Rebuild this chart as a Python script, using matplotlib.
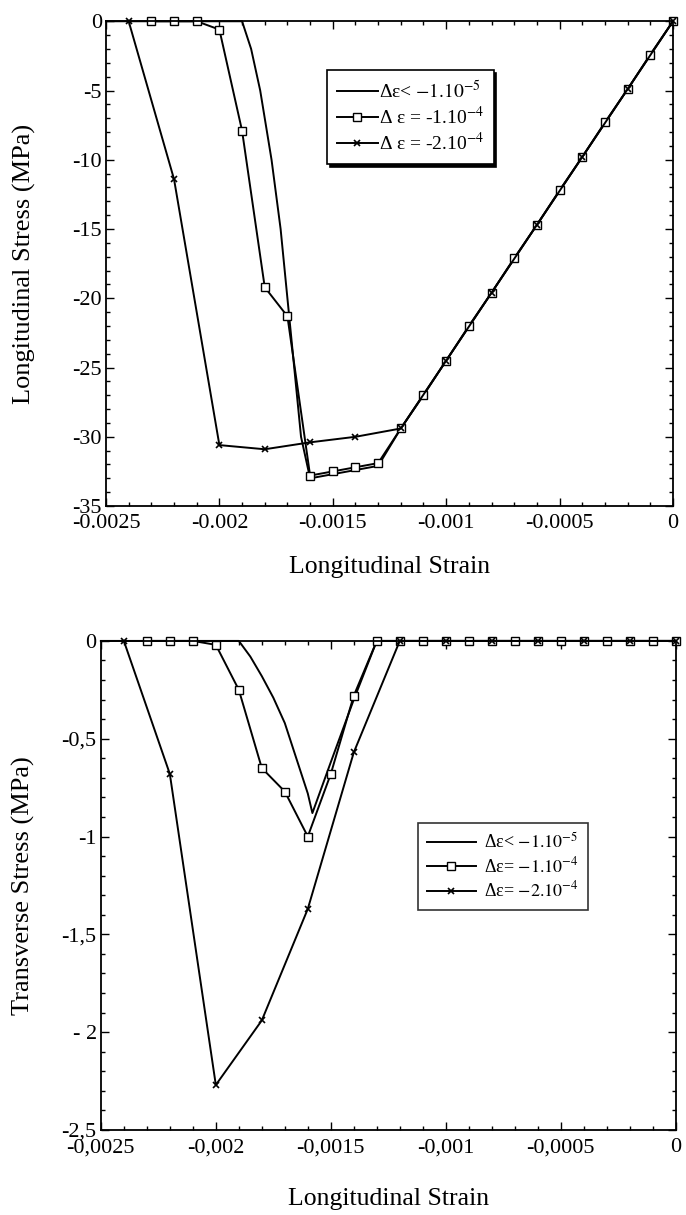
import matplotlib
matplotlib.use("Agg")
import matplotlib.pyplot as plt
from matplotlib.ticker import MultipleLocator

plt.rcParams["font.family"] = ["Liberation Serif", "DejaVu Serif"]
plt.rcParams["mathtext.fontset"] = "stix"

# ---- top panel: longitudinal stress ----
top_fine_strain = [0, -0.0012, -0.0013, -0.0014, -0.0015, -0.0016, -0.00164, -0.00167,
                   -0.0017, -0.00173, -0.00177, -0.00182, -0.00186, -0.0019, -0.0025]
top_fine_stress = [0, -29.4, -32.1, -32.4, -32.7, -33.0, -30.0, -25.0,
                   -20.0, -15.0, -10.0, -5.0, -2.0, 0, 0]

top_sq_strain = [-0.0023, -0.0022, -0.0021, -0.002, -0.0019, -0.0018, -0.0017, -0.0016,
                 -0.0015, -0.0014, -0.0013, -0.0012, -0.0011, -0.001, -0.0009, -0.0008,
                 -0.0007, -0.0006, -0.0005, -0.0004, -0.0003, -0.0002, -0.0001, 0]
top_sq_stress = [0, 0, 0, -0.6, -7.9, -19.2, -21.3, -32.8,
                 -32.5, -32.2, -31.9, -29.4, -27.0, -24.5, -22.0, -19.6,
                 -17.1, -14.7, -12.2, -9.8, -7.3, -4.9, -2.4, 0]

top_x_strain = [-0.0024, -0.0022, -0.002, -0.0018, -0.0016, -0.0014, -0.0012,
                -0.001, -0.0008, -0.0006, -0.0004, -0.0002, 0]
top_x_stress = [0, -11.4, -30.6, -30.9, -30.4, -30.0, -29.4,
                -24.5, -19.6, -14.7, -9.8, -4.9, 0]

top_labels = ["Δε< $-1.10^{-5}$", "Δ ε = -1.10$^{-4}$", "Δ ε = -2.10$^{-4}$"]

# ---- bottom panel: transverse stress ----
bot_fine_strain = [0, -0.0012, -0.0013, -0.0014, -0.0015, -0.00158, -0.0016, -0.00165,
                   -0.0017, -0.00175, -0.0018, -0.00185, -0.0019, -0.0025]
bot_fine_stress = [0, 0, 0, -0.3, -0.62, -0.88, -0.78, -0.6,
                   -0.42, -0.29, -0.18, -0.08, 0, 0]

bot_sq_strain = top_sq_strain
bot_sq_stress = [0, 0, 0, -0.02, -0.25, -0.65, -0.77, -1.0,
                 -0.68, -0.28, 0, 0, 0, 0, 0, 0,
                 0, 0, 0, 0, 0, 0, 0, 0]

bot_x_strain = top_x_strain
bot_x_stress = [0, -0.68, -2.27, -1.94, -1.37, -0.57, 0,
                0, 0, 0, 0, 0, 0]

bot_labels = ["Δε< $-1.10^{-5}$", "Δε= $-1.10^{-4}$", "Δε= $-2.10^{-4}$"]

x_ticks = [-0.0025, -0.002, -0.0015, -0.001, -0.0005, 0]
top_xticklabels = ["-0.0025", "-0.002", "-0.0015", "-0.001", "-0.0005", "0"]
bot_xticklabels = ["-0,0025", "-0,002", "-0,0015", "-0,001", "-0,0005", "0"]
top_yticks = [0, -5, -10, -15, -20, -25, -30, -35]
top_yticklabels = ["0", "-5", "-10", "-15", "-20", "-25", "-30", "-35"]
bot_yticks = [0, -0.5, -1, -1.5, -2, -2.5]
bot_yticklabels = ["0", "-0,5", "-1", "-1,5", "- 2", "-2,5"]


def style_axes(ax, ylim, y_minor):
    ax.set_xlim(-0.0025, 0)
    ax.set_ylim(*ylim)
    ax.xaxis.set_minor_locator(MultipleLocator(0.0001))
    ax.yaxis.set_minor_locator(MultipleLocator(y_minor))
    ax.tick_params(which="both", direction="in", top=True, right=True,
                   labelsize=16, width=1.0)
    ax.tick_params(axis="x", pad=6)
    ax.tick_params(axis="y", pad=3)
    ax.tick_params(which="major", length=6)
    ax.tick_params(which="minor", length=3)
    for spine in ax.spines.values():
        spine.set_linewidth(1.3)


def draw_series(ax, fine, sq, xs):
    ax.plot(fine[0], fine[1], color="black", lw=1.4, clip_on=False)
    ax.plot(sq[0], sq[1], color="black", lw=1.4, marker="s", ms=5.5,
            mfc="white", mec="black", mew=1.0, clip_on=False)
    ax.plot(xs[0], xs[1], color="black", lw=1.4, marker="x", ms=5,
            mew=1.2, clip_on=False)


fig = plt.figure(figsize=(6.86, 12.15), dpi=100)

ax1 = fig.add_axes([0.1545, 0.5835, 0.8265, 0.399])
draw_series(ax1, (top_fine_strain, top_fine_stress),
            (top_sq_strain, top_sq_stress), (top_x_strain, top_x_stress))
style_axes(ax1, (-35, 0), 1)
ax1.set_xticks(x_ticks)
ax1.set_xticklabels(top_xticklabels)
ax1.set_yticks(top_yticks)
ax1.set_yticklabels(top_yticklabels)
ax1.set_xlabel("Longitudinal Strain", fontsize=18.5, labelpad=16)
ax1.set_ylabel("Longitudinal Stress (MPa)", fontsize=19)
ax1.yaxis.set_label_coords(-0.124, 0.5)
leg1 = ax1.legend(ax1.lines, top_labels, loc="upper left",
                  bbox_to_anchor=(0.39, 0.899), borderaxespad=0,
                  fontsize=14, frameon=True,
                  fancybox=False, edgecolor="black", handlelength=2.1,
                  handletextpad=0.05, labelspacing=0.2, borderpad=0.5,
                  shadow={"color": "black", "alpha": 1})
leg1.get_frame().set_linewidth(1.2)

ax2 = fig.add_axes([0.147, 0.070, 0.838, 0.4025])
draw_series(ax2, (bot_fine_strain, bot_fine_stress),
            (bot_sq_strain, bot_sq_stress), (bot_x_strain, bot_x_stress))
style_axes(ax2, (-2.5, 0), 0.1)
ax2.set_xticks(x_ticks)
ax2.set_xticklabels(bot_xticklabels)
ax2.set_yticks(bot_yticks)
ax2.set_yticklabels(bot_yticklabels)
ax2.set_xlabel("Longitudinal Strain", fontsize=18.5, labelpad=22)
ax2.set_ylabel("Transverse Stress (MPa)", fontsize=19)
ax2.yaxis.set_label_coords(-0.114, 0.5)
leg2 = ax2.legend(ax2.lines, bot_labels, loc="upper left",
                  bbox_to_anchor=(0.551, 0.628), borderaxespad=0,
                  fontsize=13, frameon=True,
                  fancybox=False, edgecolor="black", handlelength=2.75,
                  handletextpad=0.45, labelspacing=0.25, borderpad=0.5)
leg2.get_frame().set_linewidth(1.2)

fig.savefig("out.png", dpi=100)
